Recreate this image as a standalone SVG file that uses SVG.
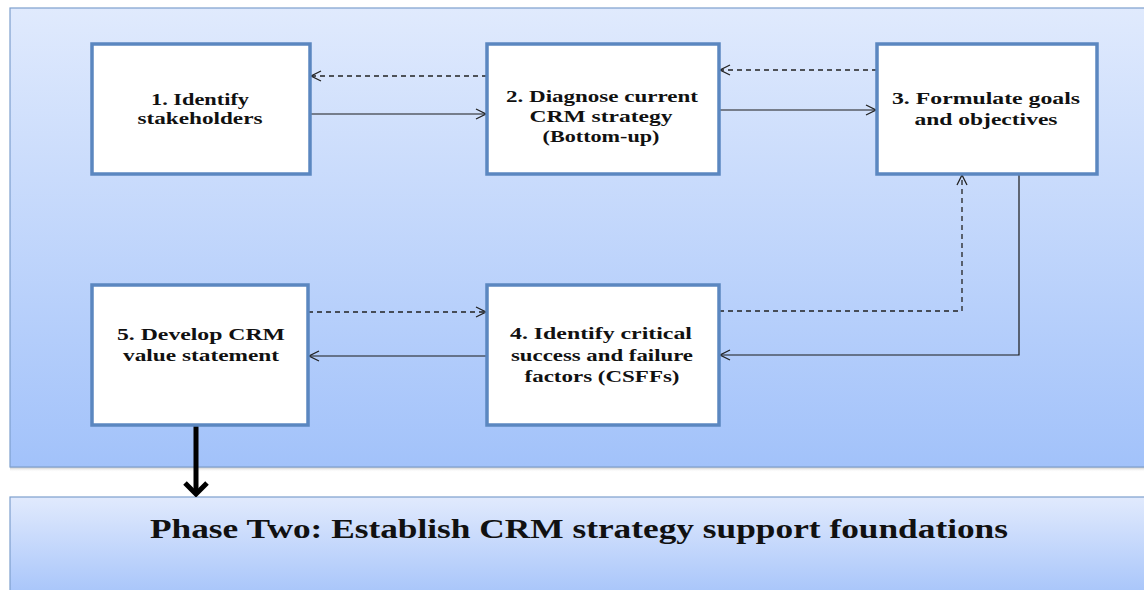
<svg xmlns="http://www.w3.org/2000/svg" width="1144" height="590" viewBox="0 0 1144 590">
<defs>
<linearGradient id="gp" x1="0" y1="0" x2="0" y2="1">
<stop offset="0" stop-color="#e0eafd"/>
<stop offset="1" stop-color="#a2c2fa"/>
</linearGradient>
<linearGradient id="gp2" x1="0" y1="0" x2="0" y2="1">
<stop offset="0" stop-color="#e1eafd"/>
<stop offset="1" stop-color="#a6c4fa"/>
</linearGradient>
<linearGradient id="sh" x1="0" y1="0" x2="0" y2="1">
<stop offset="0" stop-color="#999" stop-opacity="0.6"/>
<stop offset="1" stop-color="#fff" stop-opacity="0"/>
</linearGradient>
<marker id="ah" viewBox="0 0 12 12" refX="11" refY="6" markerWidth="12" markerHeight="12" markerUnits="userSpaceOnUse" orient="auto">
<path d="M1,1 L11,6 L1,11" fill="none" stroke="#222" stroke-width="1.3"/>
</marker>
<marker id="big" viewBox="0 0 30 20" refX="15" refY="17" markerWidth="30" markerHeight="20" markerUnits="userSpaceOnUse" orient="0">
<path d="M4,6 L15,17 L26,6" fill="none" stroke="#000" stroke-width="5"/>
</marker>
</defs>
<style>
.box{fill:#fff;stroke:#5b87c0;stroke-width:3.5}
.t{font-family:"Liberation Serif","Times New Roman",serif;font-weight:bold;font-size:17px;fill:#111;text-anchor:middle}
.s{fill:none;stroke:#1a1a1a;stroke-width:1.2}
.d{fill:none;stroke:#222;stroke-width:1.3;stroke-dasharray:5 4}
</style>
<rect x="0" y="0" width="1144" height="590" fill="#fff"/>
<rect x="10" y="467" width="1140" height="5" fill="url(#sh)"/>
<rect x="10" y="8" width="1140" height="459" fill="url(#gp)" stroke="#7d9fcd" stroke-width="1.2"/>
<rect x="10" y="497" width="1140" height="100" fill="url(#gp2)" stroke="#7d9fcd" stroke-width="1.2"/>
<text x="579" y="538" textLength="858" lengthAdjust="spacingAndGlyphs" style="font-family:'Liberation Serif','Times New Roman',serif;font-weight:bold;font-size:27px;fill:#111;text-anchor:middle">Phase Two: Establish CRM strategy support foundations</text>
<g id="connectors">
<line class="d" x1="487" y1="76" x2="311" y2="76" marker-end="url(#ah)"/>
<line class="s" x1="310" y1="114" x2="486" y2="114" marker-end="url(#ah)"/>
<line class="d" x1="877" y1="70" x2="720" y2="70" marker-end="url(#ah)"/>
<line class="s" x1="719" y1="110" x2="876" y2="110" marker-end="url(#ah)"/>
<polyline class="s" points="1019,174 1019,355 720,355" marker-end="url(#ah)"/>
<polyline class="d" points="719,311 962,311 962,175" marker-end="url(#ah)"/>
<line class="d" x1="308" y1="312" x2="486" y2="312" marker-end="url(#ah)"/>
<line class="s" x1="487" y1="356" x2="309" y2="356" marker-end="url(#ah)"/>
<line x1="196" y1="425" x2="196" y2="494" stroke="#000" stroke-width="5" marker-end="url(#big)"/>
</g>
<g id="node1">
<rect class="box" x="92" y="44" width="218" height="130"/>
<text class="t" x="200" y="105" textLength="98" lengthAdjust="spacingAndGlyphs">1. Identify</text>
<text class="t" x="200" y="124" textLength="125" lengthAdjust="spacingAndGlyphs">stakeholders</text>
</g>
<g id="node2">
<rect class="box" x="487" y="44" width="232" height="130"/>
<text class="t" x="602" y="102" textLength="192" lengthAdjust="spacingAndGlyphs">2. Diagnose current</text>
<text class="t" x="601" y="122" textLength="143" lengthAdjust="spacingAndGlyphs">CRM strategy</text>
<text class="t" x="601" y="142" textLength="117" lengthAdjust="spacingAndGlyphs">(Bottom-up)</text>
</g>
<g id="node3">
<rect class="box" x="877" y="44" width="220" height="130"/>
<text class="t" x="986" y="104" textLength="188" lengthAdjust="spacingAndGlyphs">3. Formulate  goals</text>
<text class="t" x="986" y="125" textLength="143" lengthAdjust="spacingAndGlyphs">and  objectives</text>
</g>
<g id="node4">
<rect class="box" x="487" y="285" width="232" height="140"/>
<text class="t" x="601" y="339" textLength="182" lengthAdjust="spacingAndGlyphs">4.  Identify  critical</text>
<text class="t" x="602" y="361" textLength="182" lengthAdjust="spacingAndGlyphs">success and failure</text>
<text class="t" x="602" y="382" textLength="155" lengthAdjust="spacingAndGlyphs">factors (CSFFs)</text>
</g>
<g id="node5">
<rect class="box" x="92" y="285" width="216" height="140"/>
<text class="t" x="201" y="340" textLength="168" lengthAdjust="spacingAndGlyphs">5. Develop CRM</text>
<text class="t" x="201" y="361" textLength="156" lengthAdjust="spacingAndGlyphs">value statement</text>
</g>
</svg>
